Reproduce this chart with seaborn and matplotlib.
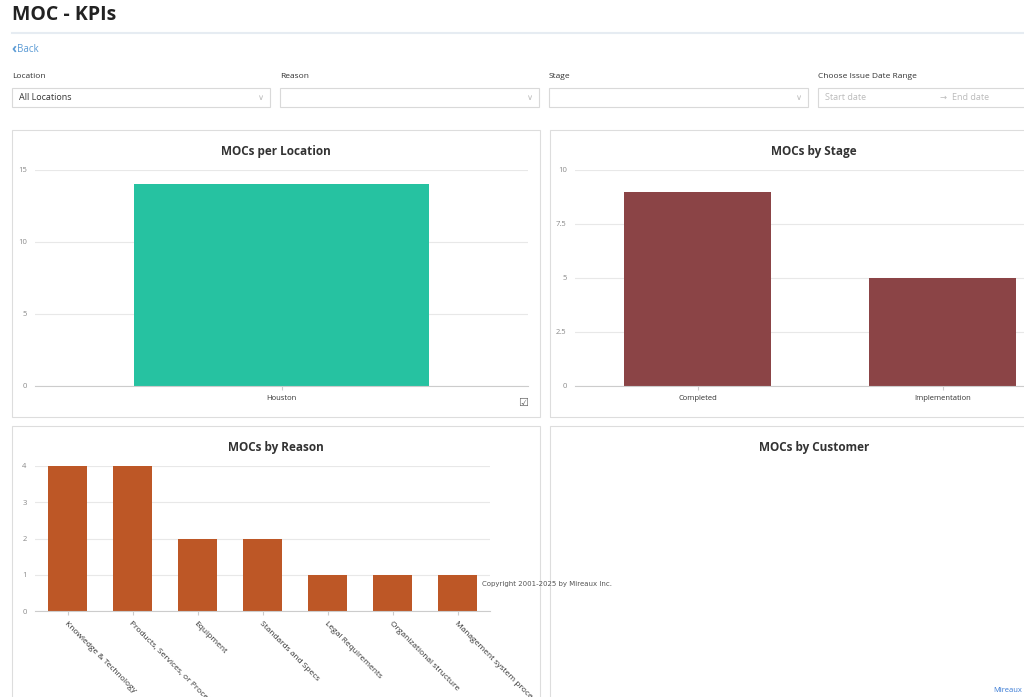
import matplotlib
matplotlib.use("Agg")
import matplotlib.pyplot as plt
import seaborn as sns
import pandas as pd
from matplotlib.patches import Rectangle

W, H = 1024, 697

locations = ["Houston"]
location_counts = [14]

stages = ["Completed", "Implementation"]
stage_counts = [9, 5]

reasons = ["Knowledge & Technology", "Products, Services, or Processes", "Equipment",
           "Standards and Specs", "Legal Requirements", "Organizational structure",
           "Management system procedures"]
reason_counts = [4, 4, 2, 2, 1, 1, 1]

plt.rcParams["font.family"] = "Open Sans"
fig = plt.figure(figsize=(W / 100, H / 100), dpi=100)
fig.patch.set_facecolor("white")


def fx(x):
    return x / W


def fy(y):
    return 1 - y / H


def box(x0, y0, x1, y1, ec="#dddddd", lw=0.8):
    fig.patches.append(Rectangle((fx(x0), fy(y1)), (x1 - x0) / W, (y1 - y0) / H,
                                 transform=fig.transFigure, fill=False, ec=ec, lw=lw))


def axes_px(x0, y0, x1, y1):
    return fig.add_axes([fx(x0), fy(y1), (x1 - x0) / W, (y1 - y0) / H])


# ── Header ──────────────────────────────────────────────────────────────
fig.text(fx(12), fy(15), "MOC - KPIs", fontsize=14, fontweight="bold", color="#222", va="center")
fig.add_artist(plt.Line2D([fx(12), 1], [fy(33), fy(33)], color="#e6ecf2", lw=1.5))
fig.text(fx(12), fy(49), "\u2039", fontsize=10, fontweight="bold", color="#5b9bd5", va="center")
fig.text(fx(17), fy(49), "Back", fontsize=7, color="#5b9bd5", va="center")

filters = [("Location", 12, 270, "All Locations"), ("Reason", 280, 539, ""),
           ("Stage", 549, 808, "")]
for label, x0, x1, val in filters:
    fig.text(fx(x0), fy(77), label, fontsize=6, color="#333", va="center")
    box(x0, 88, x1, 107, ec="#d9d9d9")
    fig.text(fx(x0 + 7), fy(98), val, fontsize=6.5, color="#333", va="center")
    fig.text(fx(x1 - 12), fy(97), "\u2228", fontsize=6, color="#bbb", va="center",
             family="DejaVu Sans")
fig.text(fx(818), fy(77), "Choose Issue Date Range", fontsize=6, color="#333", va="center")
box(818, 88, 1030, 107, ec="#d9d9d9")
fig.text(fx(825), fy(98), "Start date", fontsize=6.5, color="#bbb", va="center")
fig.text(fx(939), fy(97), "\u2192", fontsize=6, color="#bbb", va="center", family="DejaVu Sans")
fig.text(fx(952), fy(98), "End date", fontsize=6.5, color="#bbb", va="center")

# ── Panels ──────────────────────────────────────────────────────────────
for x0, y0, x1, y1 in [(12, 130, 540, 417), (550, 130, 1030, 417),
                       (12, 426, 540, 700), (550, 426, 1030, 700)]:
    box(x0, y0, x1, y1)

fig.text(fx(276), fy(152), "MOCs per Location", fontsize=8.5, fontweight="bold", ha="center", va="center", color="#333")
fig.text(fx(814), fy(152), "MOCs by Stage", fontsize=8.5, fontweight="bold", ha="center", va="center", color="#333")
fig.text(fx(276), fy(448), "MOCs by Reason", fontsize=8.5, fontweight="bold", ha="center", va="center", color="#333")
fig.text(fx(814), fy(448), "MOCs by Customer", fontsize=8.5, fontweight="bold", ha="center", va="center", color="#333")


def style(ax, ticks, ymax):
    ax.set_ylim(0, ymax)
    ax.set_yticks(ticks)
    ax.set_yticklabels([f"{t:g}" for t in ticks])
    ax.grid(axis="y", color="#e8e8e8", lw=0.8)
    ax.set_axisbelow(True)
    for s in ["top", "right", "left"]:
        ax.spines[s].set_visible(False)
    ax.spines["bottom"].set_color("#cccccc")
    ax.tick_params(axis="y", length=0, labelsize=5.5, labelcolor="#888", pad=6)
    ax.tick_params(axis="x", length=3, color="#cccccc", labelsize=5.5, labelcolor="#333")
    ax.set_xlabel("")
    ax.set_ylabel("")
    ax.set_facecolor("none")


ax1 = axes_px(35, 170, 528, 386)
sns.barplot(x=locations, y=location_counts, color="#26c2a1", width=0.6, saturation=1, ax=ax1)
style(ax1, [0, 5, 10, 15], 15)
fig.text(fx(523), fy(403), "\u2611", fontsize=8, color="#666", ha="center", va="center",
         family="DejaVu Sans")

ax2 = axes_px(575, 170, 1065, 386)
sns.barplot(x=stages, y=stage_counts, color="#8b4446", width=0.6, saturation=1, ax=ax2)
style(ax2, [0, 2.5, 5, 7.5, 10], 10)

ax3 = axes_px(35, 466, 490, 611)
sns.barplot(x=reasons, y=reason_counts, color="#bd5726", width=0.6, saturation=1, ax=ax3)
style(ax3, [0, 1, 2, 3, 4], 4)
ax3.set_xticks(range(len(reasons)))
ax3.set_xticklabels(reasons, rotation=-45, ha="left", rotation_mode="anchor", fontsize=6)

fig.text(fx(482), fy(584), "Copyright 2001-2025 by Mireaux Inc.", fontsize=5, color="#555",
         family="DejaVu Sans", va="center")
fig.text(fx(1022), fy(691), "Mireaux", fontsize=5.5, color="#3a7bd5", ha="right", va="center")

fig.savefig("out.png", dpi=100)
